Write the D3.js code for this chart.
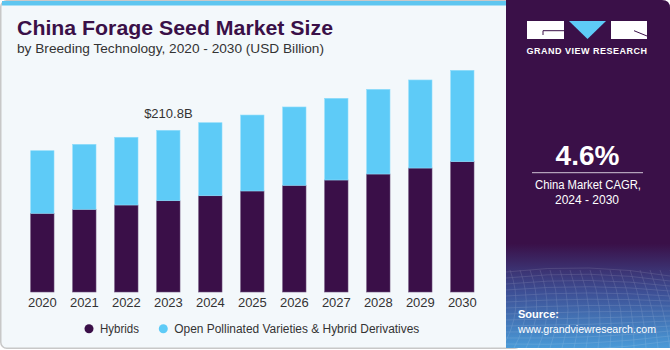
<!DOCTYPE html>
<html>
<head>
<meta charset="utf-8">
<script src="https://cdn.jsdelivr.net/npm/d3@7"></script>
<style>
  html, body { margin: 0; padding: 0; background: #ffffff; }
  svg { display: block; }
  text { font-family: "Liberation Sans", Arial, sans-serif; }
</style>
</head>
<body>
<svg id="chart" width="670" height="350"></svg>
<script>
const years = ["2020","2021","2022","2023","2024","2025","2026","2027","2028","2029","2030"];
const hybrids = [102.6, 107.8, 113.4, 119.0, 125.5, 131.7, 139.1, 146.0, 153.8, 161.6, 169.9];
const openPollinated = [81.6, 84.7, 88.3, 91.8, 95.2, 99.0, 102.1, 106.5, 110.4, 114.8, 119.1];
const seriesNames = ["Hybrids", "Open Pollinated Varieties & Hybrid Derivatives"];
const seriesColors = ["#3a0f48", "#5ecbf7"];
const annotation = { year: "2023", label: "$210.8B" };

const svg = d3.select("#chart");

// defs
const defs = svg.append("defs");
const grad = defs.append("linearGradient").attr("id", "srcGrad")
  .attr("x1", 0).attr("y1", 0).attr("x2", 0).attr("y2", 1);
grad.append("stop").attr("offset", "0%").attr("stop-color", "#3a1048");
grad.append("stop").attr("offset", "70%").attr("stop-color", "#3a1048");
grad.append("stop").attr("offset", "84%").attr("stop-color", "#3d4f95");
grad.append("stop").attr("offset", "100%").attr("stop-color", "#4a9bd8");

// left panel
svg.append("rect").attr("x", 0.75).attr("y", 0.75).attr("width", 520).attr("height", 347.5)
  .attr("rx", 6).attr("fill", "#f3f8fb").attr("stroke", "#c8c8c8").attr("stroke-width", 1.5);
svg.append("rect").attr("x", 2).attr("y", 1).attr("width", 504).attr("height", 4.5)
  .attr("fill", "#5ec6f0");

// right panel
svg.append("path")
  .attr("d", "M506,0 H662 Q670,0 670,8 V348 H506 Z")
  .attr("fill", "url(#srcGrad)");

// grid-ish texture in source area
const tex = svg.append("g").attr("opacity", 0.18).attr("stroke", "#ffffff").attr("stroke-width", 0.6).attr("fill", "none");
for (let i = 0; i < 14; i++) {
  tex.append("path").attr("d", `M506,${272 + i * 6} Q590,${262 + i * 7} 670,${276 + i * 5}`);
}
for (let i = 0; i < 20; i++) {
  const x0 = 500 + i * 10;
  tex.append("path").attr("d", `M${x0},270 Q${x0 + 15},310 ${x0 - 10 + i * 2},348`);
}

// logo
const logo = svg.append("g");
logo.append("rect").attr("x", 527).attr("y", 21).attr("width", 37).attr("height", 18).attr("fill", "#ffffff");
logo.append("path").attr("d", "M569,21 H606 L587.5,39 Z").attr("fill", "#5ecbf7");
logo.append("rect").attr("x", 611).attr("y", 21).attr("width", 36).attr("height", 18).attr("fill", "#ffffff");
logo.append("path").attr("d", "M564,30.7 H543 V35").attr("stroke", "#3a1048").attr("stroke-width", 1).attr("fill", "none");
logo.append("path").attr("d", "M634,30.7 L647,36").attr("stroke", "#3a1048").attr("stroke-width", 1).attr("fill", "none");
logo.append("text").attr("x", 587).attr("y", 54).attr("text-anchor", "middle")
  .attr("font-size", 9).attr("font-weight", "bold").attr("letter-spacing", 0.5)
  .attr("fill", "#ffffff").text("GRAND VIEW RESEARCH");

// CAGR
svg.append("text").attr("x", 587.5).attr("y", 165).attr("text-anchor", "middle")
  .attr("font-size", 28).attr("font-weight", "bold").attr("fill", "#ffffff").text("4.6%");
svg.append("line").attr("x1", 532).attr("x2", 643).attr("y1", 172.7).attr("y2", 172.7)
  .attr("stroke", "#cfc3d6").attr("stroke-width", 1);
svg.append("text").attr("x", 588).attr("y", 189).attr("text-anchor", "middle")
  .attr("font-size", 12).attr("fill", "#ffffff")
  .attr("textLength", 106).attr("lengthAdjust", "spacingAndGlyphs").text("China Market CAGR,");
svg.append("text").attr("x", 587).attr("y", 203.5).attr("text-anchor", "middle")
  .attr("font-size", 12).attr("fill", "#ffffff").text("2024 - 2030");

// source
svg.append("text").attr("x", 518).attr("y", 318).attr("font-size", 11).attr("font-weight", "bold")
  .attr("fill", "#ffffff").text("Source:");
svg.append("text").attr("x", 518).attr("y", 332.5).attr("font-size", 11)
  .attr("fill", "#ffffff").attr("textLength", 138).attr("lengthAdjust", "spacingAndGlyphs")
  .text("www.grandviewresearch.com");

// title
svg.append("text").attr("x", 17).attr("y", 35).attr("font-size", 21).attr("font-weight", "bold")
  .attr("fill", "#3a1048").attr("textLength", 316).attr("lengthAdjust", "spacingAndGlyphs")
  .text("China Forage Seed Market Size");
svg.append("text").attr("x", 17).attr("y", 53.3).attr("font-size", 13.5)
  .attr("fill", "#333333").attr("textLength", 307).attr("lengthAdjust", "spacingAndGlyphs")
  .text("by Breeding Technology, 2020 - 2030 (USD Billion)");

// scales
const x = d3.scaleBand().domain(years).range([30.7, 474]).paddingInner(0.445).paddingOuter(0);
const y = d3.scaleLinear().domain([0, 300]).range([292, 292 - 300 * 0.7671]);

const data = years.map((yr, i) => ({ year: yr, Hybrids: hybrids[i], OPV: openPollinated[i] }));
const stack = d3.stack().keys(["Hybrids", "OPV"])(data);

const barsG = svg.append("g");
stack.forEach((layer, li) => {
  barsG.append("g").selectAll("rect").data(layer).join("rect")
    .attr("x", d => x(d.data.year))
    .attr("y", d => y(d[1]))
    .attr("width", x.bandwidth())
    .attr("height", d => y(d[0]) - y(d[1]))
    .attr("fill", seriesColors[li])
    .attr("stroke", li === 0 ? "#6a4d78" : "#8fdcfb")
    .attr("stroke-width", 0.6);
});

// x axis
const xAxis = d3.axisBottom(x).tickSize(0).tickPadding(0);
const ax = svg.append("g").attr("transform", "translate(0,293)").call(xAxis);
ax.select(".domain").remove();
ax.selectAll("text").attr("font-size", 13).attr("fill", "#333333")
  .attr("font-family", "'Liberation Sans', Arial, sans-serif").attr("dy", "1.05em");

// annotation
const annIdx = years.indexOf(annotation.year);
svg.append("text")
  .attr("x", x(annotation.year) + x.bandwidth() / 2)
  .attr("y", y(hybrids[annIdx] + openPollinated[annIdx]) - 12)
  .attr("text-anchor", "middle").attr("font-size", 13).attr("fill", "#333333")
  .text(annotation.label);

// legend
const legendX = [89, 163.3];
seriesNames.forEach((name, i) => {
  svg.append("circle").attr("cx", legendX[i]).attr("cy", 328.7).attr("r", 4.5).attr("fill", seriesColors[i]);
  svg.append("text").attr("x", legendX[i] + 11).attr("y", 332.5).attr("font-size", 12.5)
    .attr("fill", "#333333").attr("textLength", i === 0 ? 39 : 245).attr("lengthAdjust", "spacingAndGlyphs")
    .text(name);
});
</script>
</body>
</html>
